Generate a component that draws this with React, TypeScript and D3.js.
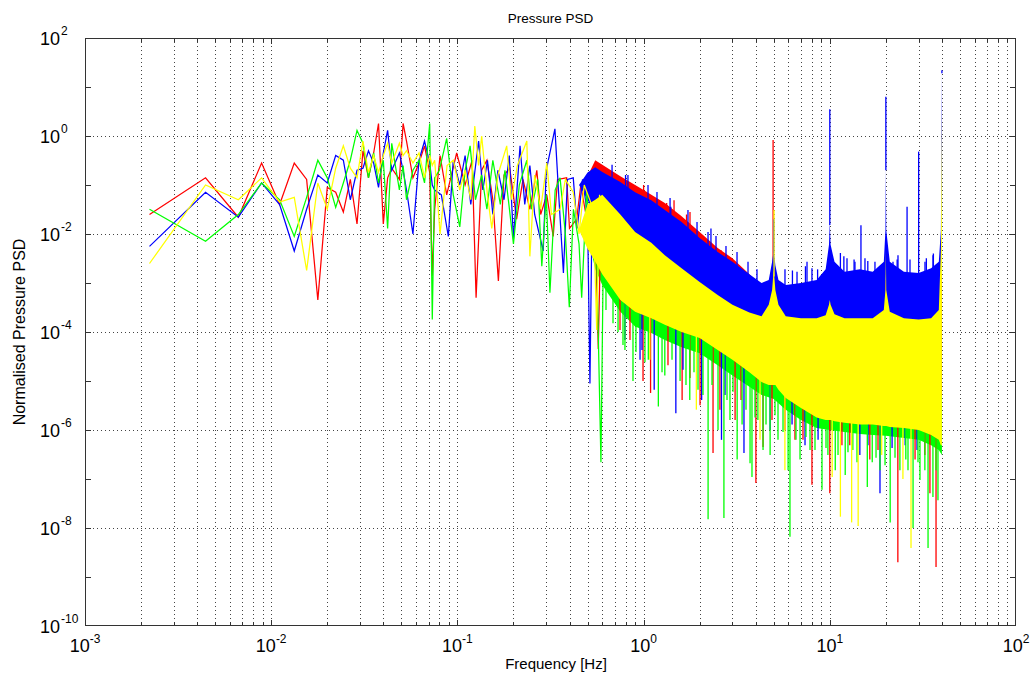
import React from "react";
import * as d3 from "d3";

// ---------- data ----------
// low-frequency bins, Hz
const lowFreq = [0.00222, 0.00444, 0.00666, 0.00888, 0.0111, 0.0133, 0.0155, 0.0178, 0.02, 0.0222, 0.0244, 0.0266, 0.0289, 0.0311, 0.0333, 0.0355, 0.0377, 0.04, 0.0422, 0.0444, 0.0488, 0.0511, 0.0533, 0.0577, 0.0622, 0.0666, 0.071, 0.0733, 0.0755];
const redLow = [2.5e-2, 1.4e-1, 2.2e-2, 2.8e-1, 4.0e-2, 2.8e-1, 1.3e-1, 4.5e-4, 8.9e-2, 7.1e-2, 2.8e-2, 1.3e-1, 1.6e-2, 5.0e-1, 1.4e-1, 4.5e-1, 1.8, 1.6e-2, 1.4e-1, 2.2e-1, 1.3e-1, 1.8, 7.9e-1, 1.4e-1, 2.8e-1, 6.3e-1, 1.8e-1, 1.4e-3, 3.2e-2];
const blueLow = [5.6e-3, 7.1e-2, 2.2e-2, 1.1e-1, 4.0e-2, 4.5e-3, 3.2e-2, 1.6e-1, 1.1e-1, 4.0e-1, 3.2e-1, 5.0e-2, 2.0e-1, 2.2e-1, 5.0e-1, 2.8e-1, 8.9e-2, 4.5e-1, 1.3, 2.0e-1, 4.5e-1, 2.0e-1, 7.9e-2, 1.0e-2, 3.2e-1, 7.9e-1, 2.8e-1, 1.0e-1, 7.9e-2];
const greenLow = [3.2e-2, 7.1e-3, 2.5e-2, 1.1e-1, 5.0e-2, 8.9e-3, 5.6e-2, 3.2e-1, 1.4e-1, 3.5e-2, 1.1e-1, 3.2e-1, 1.3, 7.1e-1, 1.4e-1, 4.5e-1, 1.1e-1, 3.2e-1, 1.3e-2, 7.1e-1, 7.9e-2, 2.5e-1, 5.0e-2, 2.0e-1, 3.2e-1, 1.1e-1, 1.8, 1.8e-4, 1.4e-1];
const yellowLow = [2.5e-3, 1.0e-1, 5.0e-2, 1.4e-1, 4.5e-2, 5.6e-2, 1.8e-3, 1.1e-1, 3.2e-2, 2.2e-1, 6.3e-1, 2.2e-1, 1.4e-1, 7.9e-1, 1.8e-1, 4.0e-1, 1.8e-1, 4.0e-1, 7.1e-1, 2.8e-1, 7.1e-1, 4.0e-1, 5.0e-1, 2.8e-1, 4.5e-1, 1.4e-1, 4.0e-1, 2.5e-1, 3.2e-1];

// mid band (0.08 - 0.63 Hz), individual strokes
const redMidFreq = [0.0807, 0.0876, 0.0991, 0.11, 0.12, 0.126, 0.135, 0.144, 0.155, 0.166, 0.178, 0.191, 0.208, 0.225, 0.245, 0.267, 0.28, 0.302, 0.327, 0.345, 0.386, 0.4, 0.437, 0.46, 0.5, 0.548, 0.571, 0.595, 0.634];
const redMid = [4.0e-1, 6.3e-2, 4.5e-1, 1.0e-1, 3.2e-1, 5.0e-4, 2.0e-1, 3.2e-1, 5.0e-2, 1.1e-3, 1.6e-1, 2.2e-1, 2.0e-2, 1.3e-1, 3.2e-2, 2.0e-1, 2.5e-2, 6.3e-2, 8.9e-3, 1.3e-1, 1.4e-1, 1.3e-2, 2.0e-2, 1.0e-1, 1.6e-2, 3.2e-2, 4.5e-5, 8.9e-2, 6.3e-2];
const blueMidFreq = [0.082, 0.0894, 0.095, 0.103, 0.11, 0.118, 0.13, 0.137, 0.145, 0.155, 0.165, 0.178, 0.19, 0.2, 0.217, 0.23, 0.245, 0.26, 0.289, 0.3, 0.334, 0.35, 0.371, 0.39, 0.419, 0.44, 0.47, 0.5, 0.515, 0.53, 0.56, 0.595, 0.62, 0.634];
const blueMid = [6.3e-2, 8.9e-3, 3.2e-1, 1.0e-1, 4.0e-1, 4.0e-2, 7.9e-1, 7.9e-2, 3.2e-1, 2.5e-2, 2.0e-1, 5.0e-2, 4.0e-1, 7.9e-3, 6.3e-1, 4.0e-2, 2.5e-1, 2.5e-2, 4.5e-3, 2.0e-1, 1.4, 6.3e-2, 1.6e-3, 1.3e-1, 1.4e-1, 1.3e-2, 1.3e-1, 2.5e-2, 8.9e-6, 6.3e-2, 1.6e-2, 8.9e-2, 2.2e-3, 1.3e-1];
const greenMidFreq = [0.08, 0.0876, 0.095, 0.103, 0.11, 0.117, 0.125, 0.135, 0.144, 0.155, 0.17, 0.18, 0.2, 0.215, 0.236, 0.25, 0.27, 0.284, 0.3, 0.314, 0.335, 0.356, 0.38, 0.399, 0.42, 0.45, 0.465, 0.494, 0.52, 0.56, 0.59, 0.61, 0.634];
const greenMid = [2.0e-1, 8.9e-1, 6.3e-2, 1.4e-2, 2.0e-1, 6.3e-1, 5.0e-2, 1.6e-1, 3.2e-2, 3.2e-1, 4.0e-2, 2.0e-1, 6.3e-3, 1.0e-1, 3.2e-1, 3.2e-2, 1.3e-1, 2.2e-3, 6.3e-2, 6.3e-4, 7.9e-2, 1.4e-1, 1.0e-2, 3.2e-4, 3.2e-2, 6.3e-3, 5.0e-4, 7.1e-2, 1.0e-2, 3.2e-3, 2.2e-7, 1.3e-2, 5.0e-3];
const yellowMidFreq = [0.0807, 0.088, 0.0951, 0.103, 0.11, 0.118, 0.124, 0.13, 0.135, 0.145, 0.153, 0.165, 0.184, 0.195, 0.21, 0.236, 0.245, 0.26, 0.28, 0.302, 0.32, 0.356, 0.38, 0.419, 0.45, 0.48, 0.537, 0.56, 0.58, 0.62, 0.634];
const yellowMid = [1.0e-2, 2.5e-1, 3.2e-1, 7.9e-2, 2.0e-1, 5.0e-2, 1.6, 2.5e-1, 1.0, 6.3e-2, 1.3e-2, 1.6e-1, 6.3e-1, 5.0e-2, 2.5e-1, 7.9e-1, 3.5e-3, 1.6e-1, 3.2e-2, 2.8e-1, 2.5e-2, 3.2e-2, 1.3e-1, 7.1e-2, 1.0e-2, 1.0e-1, 3.2e-2, 1.1e-4, 6.3e-2, 6.3e-3, 3.2e-2];

// dense region (0.45 - 40 Hz): upper / lower envelopes
const bandFreq = [0.45, 0.5, 0.55, 0.6, 0.75, 0.9, 1.1, 1.3, 1.6, 2.0, 2.5, 3.0, 3.7, 4.3, 4.7, 4.9, 5.0, 5.1, 5.3, 5.8, 7.0, 8.5, 9.5, 9.9, 10.0, 10.1, 10.6, 12, 14.5, 17, 19.5, 19.9, 20.0, 20.1, 21, 25, 30, 35, 38.5, 39.5, 40.0];
const yellowHi = [1.2e-2, 4.0e-2, 5.0e-2, 6.3e-2, 2.5e-2, 1.1e-2, 6.6e-3, 3.7e-3, 2.0e-3, 1.05e-3, 5.7e-4, 3.6e-4, 2.5e-4, 2.1e-4, 3.6e-4, 7.2e-4, 1.9e-3, 7.2e-4, 3.6e-4, 2.1e-4, 1.9e-4, 1.9e-4, 2.2e-4, 3.6e-4, 4.5e-4, 3.6e-4, 2.3e-4, 1.9e-4, 1.9e-4, 1.9e-4, 2.8e-4, 7.2e-4, 4.7e-3, 7.2e-4, 2.6e-4, 1.9e-4, 1.8e-4, 1.9e-4, 2.8e-4, 4.7e-3, 3.4];
const yellowLo = [1.2e-2, 5.0e-3, 2.7e-3, 1.5e-3, 4.5e-4, 2.6e-4, 1.9e-4, 1.4e-4, 1.0e-4, 7.5e-5, 4.3e-5, 2.7e-5, 1.5e-5, 9.5e-6, 8.3e-6, 8.3e-6, 8.3e-6, 8.3e-6, 6.6e-6, 4.5e-6, 2.8e-6, 1.8e-6, 1.6e-6, 1.6e-6, 1.6e-6, 1.6e-6, 1.5e-6, 1.4e-6, 1.3e-6, 1.3e-6, 1.2e-6, 1.2e-6, 1.2e-6, 1.2e-6, 1.15e-6, 1.1e-6, 1.0e-6, 7.9e-7, 6.3e-7, 4.9e-7, 4.9e-7];
const blueHi = [1.0e-1, 1.8e-1, 2.3e-1, 1.85e-1, 1.15e-1, 7.1e-2, 4.9e-2, 3.1e-2, 1.76e-2, 8.3e-3, 4.3e-3, 2.7e-3, 1.5e-3, 1.0e-3, 1.15e-3, 2.7e-3, 4.7e-3, 2.3e-3, 1.15e-3, 9.1e-4, 1.0e-3, 1.15e-3, 1.9e-3, 6.0e-3, 1.76e-2, 6.0e-3, 2.7e-3, 1.7e-3, 1.9e-3, 1.7e-3, 2.7e-3, 1.2e-2, 2.3e-1, 1.2e-2, 2.7e-3, 1.7e-3, 1.6e-3, 2.0e-3, 2.7e-3, 1.2e-2, 22];
const blueLo = [1.0e-1, 5.0e-2, 2.4e-2, 2.1e-2, 8e-3, 3.7e-3, 2.2e-3, 1.2e-3, 6.7e-4, 3.5e-4, 1.9e-4, 1.2e-4, 8e-5, 7e-5, 1.2e-4, 2.4e-4, 6e-4, 2.4e-4, 1.2e-4, 7e-5, 6e-5, 6e-5, 7e-5, 1.2e-4, 1.5e-4, 1.2e-4, 8e-5, 6e-5, 6e-5, 6e-5, 9e-5, 2.4e-4, 1.5e-3, 2.4e-4, 9e-5, 6e-5, 6e-5, 6e-5, 9e-5, 1.5e-3, 1.1];
const redBandFreq = [0.5, 0.55, 0.75, 1.0, 1.3, 1.6, 2.0, 2.5, 3.0, 3.7, 4.5, 6, 10, 20, 40];
const redHi = [1.5e-1, 3.2e-1, 1.5e-1, 7.9e-2, 4.3e-2, 2.3e-2, 1.1e-2, 5.2e-3, 3.2e-3, 1.5e-3, 7.2e-4, 6.6e-4, 9.1e-4, 1.15e-3, 1.5e-3];
const redLo = [1.5e-1, 1e-2, 3e-3, 1e-3, 5e-4, 3e-4, 2e-4, 1e-4, 8e-5, 5e-5, 3e-5, 2e-5, 1e-5, 8e-6, 5e-6];
const greenBandFreq = [0.5, 0.55, 0.6, 0.75, 0.9, 1.1, 1.3, 1.6, 2.0, 2.5, 3.0, 3.7, 4.3, 5.0, 5.8, 7.0, 8.5, 10, 12, 14.5, 17, 20, 25, 30, 35, 38.5, 40];
const greenHi = [1e-2, 2e-2, 1.5e-2, 5e-3, 2e-3, 1.5e-3, 1e-3, 6e-4, 4e-4, 2.5e-4, 1.6e-4, 1.1e-4, 9e-5, 8e-5, 7e-5, 6e-5, 5e-5, 5e-5, 5e-5, 5e-5, 5e-5, 5e-5, 5e-5, 5e-5, 5e-5, 5e-5, 5e-5];
const greenLo = [1e-2, 1.9e-3, 9.1e-4, 2.6e-4, 1.3e-4, 9.5e-5, 6.9e-5, 4.9e-5, 3.7e-5, 2.1e-5, 1.3e-5, 7.6e-6, 5.2e-6, 4.3e-6, 2.6e-6, 1.6e-6, 1.1e-6, 1.0e-6, 9.1e-7, 8.3e-7, 7.9e-7, 7.6e-7, 6.9e-7, 6.3e-7, 4.9e-7, 3.9e-7, 3.1e-7];

// downward spikes below the band [Hz, value]
const greenSpikes: [number, number][] = [[0.628, 2.8e-4], [0.685, 1.5e-4], [0.729, 1.0e-4], [0.775, 5.4e-5], [0.794, 4.3e-5], [0.877, 1.0e-5], [0.91, 3.9e-5], [0.957, 1.1e-4], [1.017, 2.4e-5], [1.06, 2.7e-5], [1.2, 3.0e-6], [1.256, 1.5e-5], [1.3, 1.3e-5], [1.421, 2.7e-5], [1.57, 1.0e-5], [1.689, 8.3e-6], [1.77, 4.1e-6], [1.865, 1.5e-5], [1.96, 6.6e-6], [2.084, 5.2e-6], [2.22, 1.5e-8], [2.33, 8.3e-6], [2.51, 1.0e-6], [2.7, 1.6e-8], [2.805, 4.1e-6], [2.91, 1.6e-6], [3.021, 6.0e-6], [3.18, 2.5e-7], [3.38, 1.3e-6], [3.548, 2.6e-6], [3.73, 2.1e-7], [3.82, 1.1e-7], [3.966, 1.8e-6], [4.11, 1.6e-6], [4.38, 3.9e-7], [4.544, 1.3e-6], [4.78, 3.1e-7], [5.078, 2.0e-6], [5.27, 6.3e-7], [5.607, 9.1e-7], [5.97, 1.5e-7], [6.11, 6.6e-9], [6.584, 6.3e-7], [6.92, 2.5e-7], [7.45, 7.2e-7], [7.83, 3.9e-7], [8.328, 3.9e-7], [9.08, 6.0e-8], [9.541, 4.3e-7], [9.77, 3.1e-7], [10.7, 1.5e-7], [11.07, 3.1e-7], [12.1, 1.2e-7], [12.52, 3.5e-7], [13.3, 3.9e-7], [14.0, 2.2e-7], [15.9, 6.9e-8], [16.9, 2.2e-7], [17.71, 2.7e-7], [18.6, 1.5e-7], [19.8, 1.9e-7], [21.1, 1.3e-8], [22.4, 2.7e-7], [23.8, 1.5e-7], [25.6, 2.5e-7], [26.3, 1.5e-7], [28.0, 1.0e-8], [29.76, 2.2e-7], [30.5, 9.5e-8], [32.4, 1.5e-7], [33.7, 3.9e-9], [35.8, 4.3e-8], [37.19, 1.5e-7], [38.1, 3.7e-8]];
const redSpikes: [number, number][] = [[0.747, 1.1e-4], [0.845, 6.9e-5], [0.993, 1.0e-5], [1.09, 5.7e-6], [1.352, 2.1e-5], [1.61, 4.1e-6], [1.775, 1.15e-5], [2.01, 3.2e-6], [2.36, 3.4e-7], [2.57, 2.6e-6], [3.1, 1.6e-6], [3.336, 4.1e-6], [4.01, 8.3e-8], [4.38, 4.5e-7], [4.893, 1.6e-6], [5.74, 1.0e-6], [6.5, 6.3e-7], [7.178, 6.3e-7], [8.02, 7.6e-8], [10.0, 5.1e-8], [11.62, 4.9e-7], [12.8, 4.9e-7], [16.4, 2.5e-7], [18.15, 3.9e-7], [23.2, 2.0e-9], [28.7, 2.5e-7], [32.4, 3.1e-7], [34.5, 5.1e-8], [37.2, 1.6e-9]];
const blueSpikes: [number, number][] = [[0.794, 6.9e-5], [0.957, 2.7e-5], [0.98, 4.3e-5], [1.14, 6.6e-6], [1.49, 2.2e-6], [1.628, 1.7e-5], [2.05, 4.1e-6], [2.62, 6.3e-7], [2.737, 5.2e-6], [3.46, 3.4e-7], [4.78, 1.0e-6], [6.27, 1.3e-6], [7.36, 4.9e-7], [8.65, 6.3e-7], [14.5, 3.1e-7], [16.03, 4.9e-7], [18.6, 5.1e-8], [21.6, 4.3e-7], [25.4, 4.9e-7], [29.4, 3.9e-7]];
const yellowSpikes: [number, number][] = [[1.08, 2.7e-5], [1.92, 2.6e-6], [4.22, 6.3e-7], [5.74, 1.5e-7], [10.3, 1.1e-7], [11.4, 1.7e-8], [13.1, 1.3e-8], [14.2, 1.1e-8], [19.0, 3.1e-7], [24.7, 1.0e-7], [27.3, 3.9e-9]];
// upward spikes above the band [Hz, value]
const blueUpSpikes: [number, number][] = [[0.677, 2.6e-1], [0.8, 1.6e-1], [0.824, 1.6e-1], [1.056, 1.0e-1], [1.18, 7.2e-2], [1.387, 5.4e-2], [1.4, 3.6e-2], [1.731, 3.1e-2], [1.936, 1.76e-2], [2.218, 1.1e-2], [2.3, 1.3e-2], [2.448, 9.1e-3], [2.77, 5.7e-3], [3.175, 4.3e-3], [3.637, 2.7e-3], [4.064, 1.9e-3], [5.0, 2.0e-2], [5.745, 1.9e-3], [6.3, 1.8e-3], [6.667, 1.7e-3], [7.4, 2.2e-3], [7.544, 2.7e-3], [8.02, 2.0e-3], [8.6, 1.9e-3], [10.0, 3.5], [11.4, 4.1e-3], [11.9, 3.5e-3], [12.37, 3.2e-3], [13.5, 3.0e-3], [13.65, 2.7e-3], [14.7, 1.5e-2], [15.45, 3.2e-3], [16, 2.8e-3], [17.48, 2.7e-3], [20.0, 6.3], [21.85, 2.7e-3], [23, 3.0e-3], [23.24, 3.7e-3], [26, 3.6e-2], [26.96, 3.0e-3], [30, 4.8e-1], [32.45, 2.7e-3], [33, 3.2e-3], [35.83, 3.7e-3], [36, 4.0e-3], [40, 22]];
const redUpSpikes: [number, number][] = [[0.66, 2.0e-1], [0.668, 1.6e-1], [0.747, 1.0e-1], [1.0, 1.0e-1], [1.33, 4.3e-2], [1.336, 3.9e-2], [1.457, 4.9e-2], [1.7, 2.5e-2], [1.775, 2.8e-2], [2.2, 7.6e-3], [2.301, 6.0e-3], [2.6, 4.7e-3], [2.805, 3.4e-3], [4.96, 8.3e-1]];
const yellowUpSpikes: [number, number][] = [[5.02, 3.1e-2]];

const xTickExps = [-3, -2, -1, 0, 1, 2];
const yTickExps = [-10, -8, -6, -4, -2, 0, 2];
const yMinorExps = [-9, -7, -5, -3, -1, 1];

const RED = "#ff0000";
const BLUE = "#0000ff";
const GREEN = "#00ff00";
const YELLOW = "#ffff00";
const FONT = "'Liberation Sans', Arial, Helvetica, sans-serif";

type Pt = [number, number];

// log-log interpolation used only to place spike roots on an envelope
function envAt(freqs: number[], vals: number[], f: number): number {
  if (f <= freqs[0]) return vals[0];
  for (let i = 1; i < freqs.length; i++) {
    if (f <= freqs[i]) {
      const t = (Math.log(f) - Math.log(freqs[i - 1])) / (Math.log(freqs[i]) - Math.log(freqs[i - 1]));
      return Math.exp(Math.log(vals[i - 1]) + t * (Math.log(vals[i]) - Math.log(vals[i - 1])));
    }
  }
  return vals[vals.length - 1];
}

export default function App() {
  const L = 85, R = 1016, T = 38, B = 626;
  const x = d3.scaleLog().domain([1e-3, 1e2]).range([L, R]);
  const y = d3.scaleLog().domain([1e-10, 1e2]).range([B, T]);
  const line = d3.line<Pt>().x((d) => x(d[0])).y((d) => y(d[1]));
  const pts = (f: number[], v: number[]): Pt[] => f.map((d, i) => [d, v[i]] as Pt);
  const band = (f: number[], hi: number[], lo: number[]) =>
    d3.area<number>().x((_, i) => x(f[i])).y0((_, i) => y(lo[i])).y1((_, i) => y(hi[i]))(f) || "";

  const downSpikes = (sp: Pt[], color: string, key: string) =>
    sp.map((s, i) => {
      const root = envAt(bandFreq, yellowLo, s[0]);
      return (
        <line key={key + i} x1={x(s[0])} x2={x(s[0])} y1={y(root) - 4} y2={y(s[1])} stroke={color} strokeWidth={1.3} />
      );
    });
  const upSpikes = (sp: Pt[], f: number[], hi: number[], color: string, key: string) =>
    sp.map((s, i) => {
      const root = envAt(f, hi, s[0]);
      return (
        <line key={key + i} x1={x(s[0])} x2={x(s[0])} y1={y(root) + 3} y2={y(s[1])} stroke={color} strokeWidth={1.3} />
      );
    });

  const xGrid = x.ticks().filter((t) => t > 1.0001e-3 && t < 99.99);
  const isMajor = (t: number) => Math.abs(Math.log10(t) - Math.round(Math.log10(t))) < 1e-6;

  const redLine = line(pts(lowFreq.concat(redMidFreq), redLow.concat(redMid))) || "";
  const blueLine = line(pts(lowFreq.concat(blueMidFreq), blueLow.concat(blueMid))) || "";
  const greenLine = line(pts(lowFreq.concat(greenMidFreq), greenLow.concat(greenMid))) || "";
  const yellowLine = line(pts(lowFreq.concat(yellowMidFreq), yellowLow.concat(yellowMid))) || "";

  const gridColor = "#444";
  const axisColor = "#333";
  const lw = 1.25;

  return (
    <svg width={1033} height={680} style={{ position: "absolute", left: 0, top: 0, background: "#fff" }} fontFamily={FONT}>
      <defs>
        <clipPath id="plotClip">
          <rect x={L} y={T} width={R - L} height={B - T} />
        </clipPath>
      </defs>
      <rect x={0} y={0} width={1033} height={680} fill="#fff" />

      {/* grid */}
      <g shapeRendering="crispEdges">
        {xGrid.map((t, i) => (
          <line key={"gx" + i} x1={Math.round(x(t)) + 0.5} x2={Math.round(x(t)) + 0.5} y1={T} y2={B} stroke={gridColor} strokeWidth={1} strokeDasharray="1,3" />
        ))}
        {yTickExps.filter((e) => e > -10 && e < 2).map((e) => (
          <line key={"gy" + e} x1={L} x2={R} y1={Math.round(y(Math.pow(10, e))) + 0.5} y2={Math.round(y(Math.pow(10, e))) + 0.5} stroke={gridColor} strokeWidth={1} strokeDasharray="1,3" />
        ))}
      </g>

      {/* data */}
      <g clipPath="url(#plotClip)">
        <path d={band(greenBandFreq, greenHi, greenLo)} fill={GREEN} />
        {/* red */}
        <path d={band(redBandFreq, redHi, redLo)} fill={RED} />
        <path d={redLine} fill="none" stroke={RED} strokeWidth={lw} />
        {downSpikes(redSpikes, RED, "rs")}
        {upSpikes(redUpSpikes, redBandFreq, redHi, RED, "ru")}
        {/* blue */}
        <path d={band(bandFreq, blueHi, blueLo)} fill={BLUE} />
        <path d={blueLine} fill="none" stroke={BLUE} strokeWidth={lw} />
        {downSpikes(blueSpikes, BLUE, "bs")}
        {upSpikes(blueUpSpikes, bandFreq, blueHi, BLUE, "bu")}
        {/* green */}
        <path d={greenLine} fill="none" stroke={GREEN} strokeWidth={lw} />
        {downSpikes(greenSpikes, GREEN, "gs")}
        {/* yellow */}
        <path d={band(bandFreq, yellowHi, yellowLo)} fill={YELLOW} />
        <path d={yellowLine} fill="none" stroke={YELLOW} strokeWidth={lw} />
        {downSpikes(yellowSpikes, YELLOW, "ys")}
        {upSpikes(yellowUpSpikes, bandFreq, yellowHi, YELLOW, "yu")}
      </g>

      {/* axes box and ticks */}
      <g shapeRendering="crispEdges" stroke={axisColor}>
        <rect x={L + 0.5} y={T + 0.5} width={R - L - 1} height={B - T - 1} fill="none" strokeWidth={1} />
        {xGrid.map((t, i) => {
          const len = isMajor(t) ? 6 : 4;
          const xx = Math.round(x(t)) + 0.5;
          return (
            <g key={"xt" + i}>
              <line x1={xx} x2={xx} y1={B} y2={B - len} />
              <line x1={xx} x2={xx} y1={T} y2={T + len} />
            </g>
          );
        })}
        {yTickExps.concat(yMinorExps).filter((e) => e > -10 && e < 2).map((e) => {
          const yy = Math.round(y(Math.pow(10, e))) + 0.5;
          return (
            <g key={"yt" + e}>
              <line x1={L} x2={L + 6} y1={yy} y2={yy} />
              <line x1={R - 6} x2={R} y1={yy} y2={yy} />
            </g>
          );
        })}
      </g>

      {/* tick labels */}
      <g fill="#000">
        {xTickExps.map((e) => (
          <text key={"xl" + e} x={x(Math.pow(10, e))} y={652} textAnchor="middle" fontSize={18}>
            10
            <tspan fontSize={12} dy={-9}>{String(e)}</tspan>
          </text>
        ))}
        {yTickExps.map((e) => {
          const yy = y(Math.pow(10, e));
          return (
            <g key={"yl" + e}>
              <text x={60} y={yy + 7} textAnchor="end" fontSize={18}>10</text>
              <text x={61} y={yy - 3} textAnchor="start" fontSize={12}>{String(e)}</text>
            </g>
          );
        })}
      </g>

      {/* titles */}
      <text x={(L + R) / 2} y={23} textAnchor="middle" fontSize={13.5} fill="#000">Pressure PSD</text>
      <text x={556} y={669} textAnchor="middle" fontSize={15} fill="#000">Frequency [Hz]</text>
      <text transform={`translate(25, ${(T + B) / 2}) rotate(-90)`} textAnchor="middle" fontSize={16} fill="#000">Normalised Pressure PSD</text>
    </svg>
  );
}
